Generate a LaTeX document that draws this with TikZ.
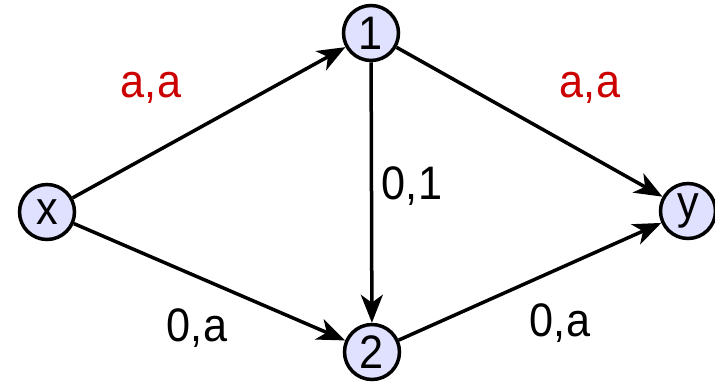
\documentclass[tikz,border=0pt]{standalone}
\usepackage{fontspec}
\setmainfont{Liberation Sans}
\usetikzlibrary{arrows.meta}
\definecolor{nodefill}{HTML}{E0E0FF}
\definecolor{labred}{HTML}{CC0000}
\newcommand{\lbl}[1]{\scalebox{0.92}[1]{#1}}
\begin{document}
\begin{tikzpicture}[x=1pt,y=-1pt,
  vert/.style={circle,draw=black,line width=3.5pt,fill=nodefill,minimum size=55pt,inner sep=0pt,font=\fontsize{47}{47}\selectfont},
  edge/.style={line width=3.5pt,-{Stealth[length=28pt,width=22pt,inset=8pt]}},
  lab/.style={inner sep=0pt,font=\fontsize{47}{47}\selectfont}]
\useasboundingbox (0,0) rectangle (715,384);
\node[vert] (x) at (47,212) {\lbl{x}};
\node[vert] (n1) at (371,33) {\lbl{1}};
\node[vert] (n2) at (372,352) {\lbl{2}};
\node[vert] (y) at (688,211) {\lbl{y}};
\draw[edge] (x) -- (n1);
\draw[edge] (x) -- (n2);
\draw[edge] (n1) -- (n2);
\draw[edge] (n1) -- (y);
\draw[edge] (n2) -- (y);
\node[lab,text=labred] (l1) at (151,88) {\lbl{a,a}};
\node[lab,text=labred] (l2) at (590,88) {\lbl{a,a}};
\node[lab] (l3) at (412,186) {\lbl{0,1}};
\node[lab] (l4) at (197,328) {\lbl{0,a}};
\node[lab] (l5) at (560,323) {\lbl{0,a}};
\end{tikzpicture}
\end{document}
